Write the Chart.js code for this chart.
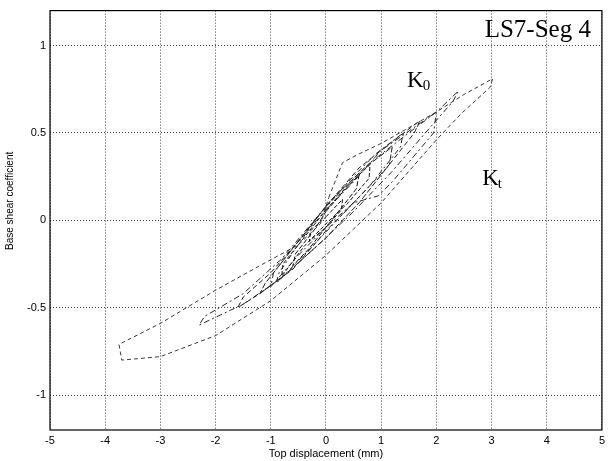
<!DOCTYPE html>
<html>
<head>
<meta charset="utf-8">
<script src="https://cdn.jsdelivr.net/npm/chart.js@4/dist/chart.umd.min.js"></script>
<style>
  html, body { margin: 0; padding: 0; background: #fff; }
  #wrap { width: 609px; height: 461px; }
</style>
</head>
<body>
<div id="wrap"><canvas id="loopChart"></canvas></div>
<script>
// axis ticks
const xTicks = [-5, -4, -3, -2, -1, 0, 1, 2, 3, 4, 5];
const yTicks = [-1, -0.5, 0, 0.5, 1];

// hysteresis loops (displacement mm, base shear coeff)
const outerX = [0.05, 0.3, 0.6, 1.0, 1.5, 2.0, 2.5, 3.02, 2.97, 2.45, 2.0, 1.5, 1.0, 0.5, 0.0, -0.5, -1.0, -2.0, -3.0, -3.7, -3.75, -3.0, -2.0, -1.2, -0.5, -0.1, 0.05];
const outerY = [0.13, 0.33, 0.38, 0.44, 0.53, 0.62, 0.72, 0.81, 0.76, 0.61, 0.46, 0.28, 0.1, -0.05, -0.2, -0.33, -0.46, -0.66, -0.78, -0.8, -0.71, -0.59, -0.4, -0.26, -0.14, -0.02, 0.13];

const loop2X = [0.0, 0.8, 1.5, 2.0, 2.4, 2.3, 1.8, 1.2, 0.5, 0.0, -0.8, -1.5, -2.3, -2.2, -1.5, -0.8, 0.0];
const loop2Y = [0.08, 0.33, 0.5, 0.62, 0.74, 0.68, 0.5, 0.28, 0.05, -0.1, -0.33, -0.48, -0.6, -0.55, -0.42, -0.22, 0.08];

const loop3X = [0.0, 0.6, 1.2, 1.7, 1.6, 1.1, 0.5, 0.0, -0.6, -1.2, -1.6, -1.5, -1.0, -0.5, 0.0];
const loop3Y = [0.08, 0.3, 0.45, 0.57, 0.5, 0.3, 0.1, -0.06, -0.28, -0.42, -0.5, -0.44, -0.3, -0.12, 0.08];

const loop4X = [0.0, 0.5, 1.0, 2.0, 1.95, 1.2, 0.95, 0.5, 0.0, -0.5, -1.0, -0.95, -0.5, 0.0];
const loop4Y = [0.06, 0.22, 0.4, 0.62, 0.5, 0.22, 0.14, 0.1, -0.04, -0.2, -0.38, -0.3, -0.12, 0.06];

const loop5X = [0.0, 0.3, 0.6, 0.55, 0.2, 0.0, -0.3, -0.6, -0.55, -0.2, 0.0];
const loop5Y = [0.05, 0.16, 0.26, 0.18, 0.04, -0.04, -0.16, -0.26, -0.19, -0.05, 0.05];

const loop6X = [0.0, 0.3, 0.28, 0.0, -0.3, -0.28, 0.0];
const loop6Y = [0.02, 0.12, 0.06, -0.04, -0.12, -0.06, 0.02];

const loop7X = [0.1, 0.7, 1.2, 1.15, 0.6, 0.0, -0.7, -1.2, -1.1, -0.6, 0.1];
const loop7Y = [0.12, 0.3, 0.42, 0.32, 0.1, -0.1, -0.3, -0.42, -0.36, -0.16, 0.12];

const loop8X = [-0.2, 0.4, 0.9, 1.4, 1.35, 0.8, 0.2, -0.4, -0.9, -0.85, -0.2];
const loop8Y = [0.0, 0.22, 0.38, 0.5, 0.42, 0.2, 0.0, -0.2, -0.36, -0.3, 0.0];

const loop9X = [0.0, 0.4, 0.8, 0.78, 0.4, 0.0, -0.4, -0.8, -0.78, -0.4, 0.0];
const loop9Y = [0.06, 0.2, 0.32, 0.24, 0.1, -0.02, -0.15, -0.32, -0.25, -0.1, 0.06];

// text labels placed in data units
const labelTitle = { text: "LS7-Seg 4", x: 4.8, y: 1.05 };
const labelK0 = { text: "K", sub: "0", x: 1.47, y: 0.76 };
const labelKt = { text: "K", sub: "t", x: 2.83, y: 0.2 };

function toPoints(xs, ys) {
  return xs.map((x, i) => ({ x: x, y: ys[i] }));
}

const loops = [
  { x: outerX, y: outerY, dash: [4, 3], color: "#3a3a3a" },
  { x: loop2X, y: loop2Y, dash: [6, 3, 2, 3], color: "#2a2a2a" },
  { x: loop3X, y: loop3Y, dash: [5, 3], color: "#222" },
  { x: loop4X, y: loop4Y, dash: [6, 3, 2, 3], color: "#2a2a2a" },
  { x: loop5X, y: loop5Y, dash: [5, 2], color: "#111" },
  { x: loop6X, y: loop6Y, dash: [4, 2], color: "#111" },
  { x: loop7X, y: loop7Y, dash: [6, 2], color: "#222" },
  { x: loop8X, y: loop8Y, dash: [5, 3, 2, 3], color: "#222" },
  { x: loop9X, y: loop9Y, dash: [4, 2], color: "#111" }
];

const boxAndLabels = {
  id: "boxAndLabels",
  afterDraw(chart) {
    const { ctx, chartArea, scales } = chart;
    ctx.save();
    ctx.strokeStyle = "#000";
    ctx.lineWidth = 1.2;
    ctx.strokeRect(chartArea.left, chartArea.top, chartArea.right - chartArea.left, chartArea.bottom - chartArea.top);

    ctx.fillStyle = "#000";
    ctx.textBaseline = "alphabetic";
    ctx.font = "25px 'Liberation Serif', 'Times New Roman', serif";
    ctx.textAlign = "right";
    ctx.fillText(labelTitle.text, scales.x.getPixelForValue(labelTitle.x), scales.y.getPixelForValue(labelTitle.y));

    ctx.textAlign = "left";
    [labelK0, labelKt].forEach(l => {
      const px = scales.x.getPixelForValue(l.x);
      const py = scales.y.getPixelForValue(l.y);
      ctx.font = "23px 'Liberation Serif', 'Times New Roman', serif";
      ctx.fillText(l.text, px, py);
      const w = ctx.measureText(l.text).width;
      ctx.font = "15px 'Liberation Serif', 'Times New Roman', serif";
      ctx.fillText(l.sub, px + w - 1, py + 3);
    });
    ctx.restore();
  }
};

const ctx = document.getElementById("loopChart").getContext("2d");

new Chart(ctx, {
  type: "scatter",
  data: {
    datasets: loops.map(l => ({
      data: toPoints(l.x, l.y),
      showLine: true,
      borderColor: l.color,
      borderWidth: 1,
      borderDash: l.dash,
      pointRadius: 0,
      fill: false,
      tension: 0
    }))
  },
  options: {
    responsive: true,
    maintainAspectRatio: false,
    animation: false,
    layout: { padding: { left: 0, right: 7, top: 9, bottom: 0 } },
    plugins: {
      legend: { display: false },
      tooltip: { enabled: false }
    },
    scales: {
      x: {
        type: "linear",
        min: -5,
        max: 5,
        afterFit: function (scale) { scale.height = 31; },
        afterBuildTicks: function (scale) { scale.ticks = xTicks.map(v => ({ value: v })); },
        grid: { color: "#444", lineWidth: 1, tickLength: 0 },
        border: { display: false, dash: [1, 2] },
        ticks: {
          padding: 4,
          color: "#000",
          font: { family: "'Liberation Sans', Arial, sans-serif", size: 11 },
          callback: function (value) { return String(value); }
        },
        title: {
          display: true,
          text: "Top displacement (mm)",
          color: "#000",
          font: { family: "'Liberation Sans', Arial, sans-serif", size: 11 },
          padding: { top: 0, bottom: 0 }
        }
      },
      y: {
        type: "linear",
        min: -1.2,
        max: 1.2,
        afterFit: function (scale) { scale.width = 50; },
        afterBuildTicks: function (scale) { scale.ticks = yTicks.map(v => ({ value: v })); },
        grid: { color: "#444", lineWidth: 1, tickLength: 0 },
        border: { display: false, dash: [1, 2] },
        ticks: {
          padding: 4,
          color: "#000",
          font: { family: "'Liberation Sans', Arial, sans-serif", size: 11 },
          callback: function (value) { return String(value); }
        },
        title: {
          display: true,
          text: "\u00a0".repeat(14) + "Base shear coefficient",
          color: "#000",
          font: { family: "'Liberation Sans', Arial, sans-serif", size: 10 },
          padding: { top: 4, bottom: 0 }
        }
      }
    }
  },
  plugins: [boxAndLabels]
});
</script>
</body>
</html>
